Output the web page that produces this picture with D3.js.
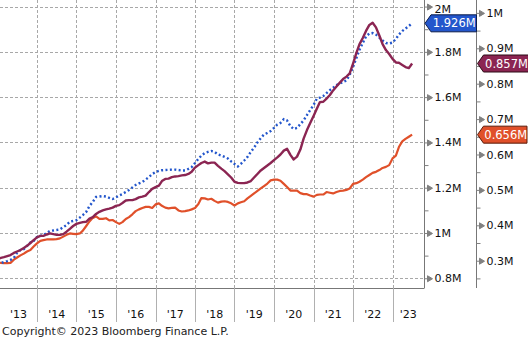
<!DOCTYPE html>
<html>
<head>
<meta charset="utf-8">
<script src="https://cdn.jsdelivr.net/npm/d3@7/dist/d3.min.js"></script>
<style>
  html, body { margin: 0; padding: 0; background: #fff; }
  svg { display: block; font-family: "DejaVu Sans", sans-serif; }
</style>
</head>
<body>
<svg id="chart" width="528" height="340"></svg>
<script>
// Monthly observations, Jan 2013 – Jul 2023
const startMonth = new Date(2013, 0, 1);

// left axis series (millions)
const blueSeries = [
  0.863,0.866,0.872,0.876,0.881,0.890,0.912,0.925,0.929,0.943,0.958,0.965,
  0.982,0.987,0.991,1.000,1.009,1.011,1.013,1.016,1.026,1.035,1.050,1.053,
  1.057,1.068,1.079,1.093,1.119,1.137,1.159,1.161,1.163,1.161,1.155,1.150,
  1.157,1.166,1.172,1.181,1.190,1.201,1.212,1.219,1.225,1.236,1.247,1.260,
  1.269,1.274,1.277,1.278,1.279,1.280,1.280,1.278,1.276,1.276,1.283,1.291,
  1.309,1.327,1.342,1.353,1.358,1.362,1.358,1.347,1.342,1.336,1.329,1.316,
  1.305,1.294,1.305,1.320,1.336,1.358,1.377,1.400,1.419,1.435,1.442,1.450,
  1.464,1.479,1.486,1.503,1.497,1.472,1.459,1.464,1.481,1.497,1.521,1.543,
  1.565,1.594,1.598,1.605,1.618,1.631,1.642,1.653,1.660,1.667,1.673,1.698,
  1.733,1.773,1.808,1.839,1.868,1.881,1.883,1.876,1.863,1.850,1.839,1.837,
  1.841,1.857,1.876,1.892,1.903,1.914,1.926
];

// right axis series (millions)
const maroonSeries = [
  0.305,0.308,0.310,0.313,0.316,0.322,0.326,0.330,0.336,0.342,0.350,0.358,
  0.366,0.370,0.370,0.374,0.377,0.375,0.373,0.373,0.375,0.382,0.390,0.398,
  0.404,0.407,0.409,0.410,0.419,0.423,0.432,0.438,0.442,0.445,0.447,0.450,
  0.455,0.457,0.463,0.470,0.471,0.471,0.474,0.479,0.481,0.484,0.494,0.503,
  0.508,0.512,0.525,0.531,0.532,0.536,0.538,0.539,0.541,0.542,0.545,0.551,
  0.563,0.570,0.576,0.580,0.575,0.577,0.577,0.568,0.560,0.553,0.544,0.535,
  0.523,0.520,0.519,0.519,0.521,0.525,0.535,0.545,0.555,0.562,0.569,0.576,
  0.584,0.592,0.600,0.611,0.616,0.599,0.586,0.594,0.614,0.645,0.669,0.689,
  0.709,0.730,0.748,0.749,0.758,0.768,0.781,0.792,0.803,0.813,0.820,0.829,
  0.857,0.887,0.911,0.929,0.949,0.966,0.972,0.959,0.936,0.912,0.895,0.884,
  0.870,0.860,0.859,0.853,0.847,0.844,0.857
];

const orangeSeries = [
  0.295,0.294,0.293,0.293,0.294,0.303,0.309,0.315,0.320,0.326,0.330,0.340,
  0.349,0.356,0.358,0.360,0.360,0.360,0.361,0.363,0.368,0.373,0.377,0.376,
  0.375,0.377,0.385,0.398,0.411,0.421,0.425,0.418,0.418,0.420,0.414,0.415,
  0.409,0.404,0.409,0.418,0.423,0.431,0.440,0.445,0.449,0.452,0.452,0.449,
  0.459,0.462,0.455,0.450,0.448,0.449,0.450,0.442,0.439,0.440,0.442,0.445,
  0.449,0.460,0.477,0.476,0.473,0.475,0.469,0.464,0.467,0.468,0.466,0.462,
  0.456,0.462,0.465,0.468,0.476,0.483,0.490,0.497,0.504,0.511,0.518,0.527,
  0.529,0.529,0.526,0.517,0.508,0.498,0.498,0.498,0.491,0.488,0.488,0.484,
  0.481,0.486,0.487,0.487,0.494,0.492,0.490,0.494,0.497,0.498,0.500,0.504,
  0.517,0.519,0.523,0.529,0.536,0.542,0.548,0.551,0.556,0.562,0.565,0.570,
  0.589,0.597,0.621,0.637,0.644,0.650,0.656
];

const yearLabels = ["'13","'14","'15","'16","'17","'18","'19","'20","'21","'22","'23"];
const leftTicks = [0.8, 1.0, 1.2, 1.4, 1.6, 1.8, 2.0];
const leftMinor = [0.9, 1.1, 1.3, 1.5, 1.7, 1.9];
const rightTicks = [0.3, 0.4, 0.5, 0.6, 0.7, 0.8, 0.9, 1.0];
const rightMinor = [0.25, 0.35, 0.45, 0.55, 0.65, 0.75, 0.85, 0.95];

const colors = { blue: "#2356cc", maroon: "#8b2552", orange: "#e0502a" };

const svg = d3.select("#chart");
const W = 424, H = 288;      // plot area
const leftAxisX = 424.5, rightAxisX = 476.5;

const x = d3.scaleTime()
  .domain([new Date(2013, 0, 24), new Date(2023, 9, 19)])
  .range([0, W]);
const yL = d3.scaleLinear().domain([0.757, 2.029]).range([H, 0]);
const yR = d3.scaleLinear().domain([0.2229, 1.0364]).range([H, 0]);

const dateOf = i => d3.timeMonth.offset(startMonth, i);
const mkData = arr => arr.map((v, i) => ({ date: dateOf(i), value: v }));

const fmtM = v => (v === 1 || v === 2) ? d3.format("d")(v) + "M" : d3.format(".1f")(v) + "M";

// grid
const years = d3.range(2014, 2024).map(yr => new Date(yr, 0, 1));
const grid = svg.append("g");
grid.selectAll("line.v").data(years).join("line")
  .attr("x1", d => Math.round(x(d)) + 0.5).attr("x2", d => Math.round(x(d)) + 0.5)
  .attr("y1", 0).attr("y2", H)
  .attr("stroke", "#a8a8a8").attr("stroke-width", 1).attr("stroke-dasharray", "3,2");
grid.selectAll("line.h").data(leftTicks).join("line")
  .attr("x1", 0).attr("x2", W)
  .attr("y1", d => Math.round(yL(d)) + 0.5).attr("y2", d => Math.round(yL(d)) + 0.5)
  .attr("stroke", "#a8a8a8").attr("stroke-width", 1).attr("stroke-dasharray", "3,2");

// series
svg.append("clipPath").attr("id", "plotClip")
  .append("rect").attr("x", 0).attr("y", 0).attr("width", W).attr("height", H);
const plot = svg.append("g").attr("clip-path", "url(#plotClip)");

const lineL = d3.line().x(d => x(d.date)).y(d => yL(d.value));
const lineR = d3.line().x(d => x(d.date)).y(d => yR(d.value));

plot.append("path").datum(mkData(orangeSeries))
  .attr("d", lineR).attr("fill", "none")
  .attr("stroke", colors.orange).attr("stroke-width", 2.2).attr("stroke-linejoin", "round");
plot.append("path").datum(mkData(blueSeries))
  .attr("d", lineL).attr("fill", "none")
  .attr("stroke", colors.blue).attr("stroke-width", 2.4).attr("stroke-dasharray", "2,2.4");
plot.append("path").datum(mkData(maroonSeries))
  .attr("d", lineR).attr("fill", "none")
  .attr("stroke", colors.maroon).attr("stroke-width", 2.4).attr("stroke-linejoin", "round");

// x axis band
const xa = svg.append("g");
xa.append("line").attr("x1", 0).attr("x2", leftAxisX).attr("y1", H + 0.5).attr("y2", H + 0.5)
  .attr("stroke", "#777");
xa.selectAll("line.sep").data(years).join("line")
  .attr("x1", d => Math.round(x(d)) + 0.5).attr("x2", d => Math.round(x(d)) + 0.5)
  .attr("y1", H).attr("y2", 322).attr("stroke", "#b0b0b0");
const yearSpans = yearLabels.map((lab, i) => {
  const a = Math.max(0, x(new Date(2013 + i, 0, 1)));
  const b = Math.min(W, x(new Date(2014 + i, 0, 1)));
  return { lab, mid: (a + b) / 2 };
});
xa.selectAll("text").data(yearSpans).join("text")
  .attr("x", d => d.mid).attr("y", 318)
  .attr("text-anchor", "middle").attr("font-size", 11).attr("fill", "#111")
  .text(d => d.lab);

// value axes drawn with d3 axes, styled with arrow ticks
function valueAxis(scale, xPos, major, minor) {
  const g = svg.append("g").attr("transform", `translate(${xPos},0)`);
  g.call(d3.axisRight(scale).tickValues(major).tickSize(0).tickPadding(10).tickFormat(fmtM));
  g.select(".domain").attr("stroke", "#777").attr("d", `M0,0V${H}`);
  g.selectAll(".tick text").attr("font-size", 11).attr("fill", "#111")
    .attr("font-family", "DejaVu Sans, sans-serif");
  g.selectAll(".tick").append("path")
    .attr("d", "M0,0H3M3,-3L8,0L3,3Z").attr("fill", "#808080").attr("stroke", "#808080")
    .attr("stroke-width", 1);
  const m = svg.append("g").attr("transform", `translate(${xPos},0)`);
  m.call(d3.axisRight(scale).tickValues(minor).tickSize(4).tickFormat(""));
  m.select(".domain").remove();
  m.selectAll(".tick line").attr("stroke", "#808080");
  return g;
}
const gl = valueAxis(yL, leftAxisX, leftTicks, leftMinor);
// keep the top label inside the frame
gl.selectAll(".tick").filter(d => d === 2.0).select("text").attr("dy", "0.55em");
valueAxis(yR, rightAxisX, rightTicks, rightMinor);

// last-value tags
function tag(xTip, yc, x2, value, fill, stroke) {
  const h = 8.5, notch = 6;
  const g = svg.append("g");
  g.append("path")
    .attr("d", `M${xTip},${yc} L${xTip + notch},${yc - h} L${x2},${yc - h} L${x2},${yc + h} L${xTip + notch},${yc + h} Z`)
    .attr("fill", fill).attr("stroke", stroke).attr("stroke-width", 1);
  g.append("text").attr("x", (xTip + notch + x2) / 2 + 0.5).attr("y", yc)
    .attr("dy", "0.36em").attr("text-anchor", "middle")
    .attr("font-size", 11.5).attr("fill", "#fff").text(d3.format(".3f")(value) + "M");
}
const lastBlue = blueSeries[blueSeries.length - 1];
const lastMaroon = maroonSeries[maroonSeries.length - 1];
const lastOrange = orangeSeries[orangeSeries.length - 1];
tag(leftAxisX + 0.5, yL(lastBlue), rightAxisX, lastBlue, colors.blue, "#0c1c4a");
tag(rightAxisX + 1, yR(lastMaroon), 528.5, lastMaroon, colors.maroon, "#2a0a14");
tag(rightAxisX + 1, yR(lastOrange), 527, lastOrange, colors.orange, "#5a1a08");

// source line
svg.append("text").attr("x", 2).attr("y", 335)
  .attr("font-size", 11).attr("fill", "#222")
  .text("Copyright\u00A9 2023 Bloomberg Finance L.P.");
</script>
</body>
</html>
